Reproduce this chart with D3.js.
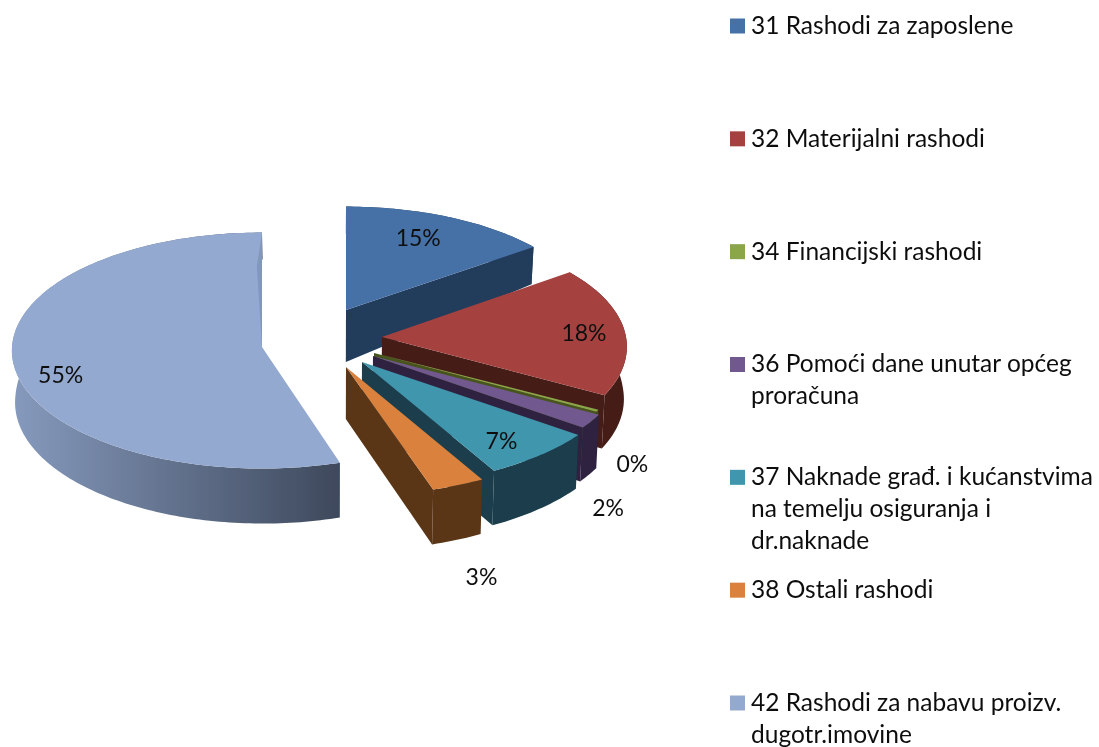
<!DOCTYPE html>
<html>
<head>
<meta charset="utf-8">
<script src="https://cdn.jsdelivr.net/npm/d3@7"></script>
<style>
    html, body { margin: 0; padding: 0; background: #fff; }
    text { font-family: Lato, "Noto Sans", sans-serif; fill: #111; }
</style>
</head>
<body>
<div class="container"></div>
<script>
// legend text, one entry per line
var categories = [
    ["31 Rashodi za zaposlene"],
    ["32 Materijalni rashodi"],
    ["34 Financijski rashodi"],
    ["36 Pomoći dane unutar općeg", "proračuna"],
    ["37 Naknade građ. i kućanstvima", "na temelju osiguranja i", "dr.naknade"],
    ["38 Ostali rashodi"],
    ["42 Rashodi za nabavu proizv.", "dugotr.imovine"]
];
// percent shares
var values = [15, 18, 0.3, 2, 6.8, 3, 54.9];

var topColors = ["#4571a7", "#a54340", "#8aa64a", "#71588f", "#3f96ad", "#d9813c", "#94a9cf"];
var sideColors = ["#243c5c", "#451c19", "#46541f", "#2e2340", "#1b3e4b", "#5a3517", "url(#bigSide)"];

// exploded slices: apex on the page and ellipse size of each one
var sliceGeom = [
    { cx: 346, cy: 310, rx: 244, ry: 113, k: 0.085 },
    { cx: 382, cy: 337, rx: 244, ry: 116, k: 0.085 },
    { cx: 374, cy: 353, rx: 246, ry: 113, k: 0.085 },
    { cx: 373, cy: 356, rx: 250, ry: 113, k: 0.085 },
    { cx: 362, cy: 362, rx: 258, ry: 115, k: 0.085 },
    { cx: 346, cy: 367, rx: 266, ry: 119, k: 0.085 },
    { cx: 262, cy: 347, rx: 250, ry: 118, k: 0.03 }
];
// label shift from the point at 0.8 radius on the mid angle
var labelNudge = [[-11, 4], [8, 2], [81, 65], [62, 100], [-2, 6], [47, 117], [-3, 13]];

var width = 1099, height = 747;

var svg = d3.select(".container").append("svg")
    .attr("width", width)
    .attr("height", height)
    .style("display", "block");

var grad = svg.append("defs").append("linearGradient")
    .attr("id", "bigSide")
    .attr("gradientUnits", "userSpaceOnUse")
    .attr("x1", 16).attr("x2", 339).attr("y1", 0).attr("y2", 0);
grad.append("stop").attr("offset", 0).attr("stop-color", "#8599bc");
grad.append("stop").attr("offset", 1).attr("stop-color", "#3e495c");

svg.select("defs").append("filter")
    .attr("id", "soft")
    .attr("filterUnits", "userSpaceOnUse")
    .attr("x", 0).attr("y", 0).attr("width", width).attr("height", height)
    .append("feGaussianBlur").attr("stdDeviation", 0.5);

var pie = d3.pie().sort(null).value(function (d) { return d; });
var arcs = pie(values);

// unit angle + radius -> point of the top face
function topPoint(g, a, r) {
    var s = 1 - g.k * Math.cos(a) * r;
    return [g.cx + g.rx * Math.sin(a) * r * s, g.cy - g.ry * Math.cos(a) * r * s];
}

// same point on the bottom face, depth shrinks toward the back
function bottomPoint(g, a, r) {
    var p = topPoint(g, a, r);
    var c = Math.cos(a) * r;
    var depth = c > 0 ? 52 - 25 * c : 52 - 3 * c;
    return [p[0] + (330 - p[0]) * 0.01, p[1] + depth];
}

var line = d3.line();

function arcAngles(d) {
    var n = Math.max(2, Math.ceil((d.endAngle - d.startAngle) / 0.02));
    return d3.range(n + 1).map(function (i) {
        return d.startAngle + (d.endAngle - d.startAngle) * i / n;
    });
}

var chart = svg.append("g").attr("filter", "url(#soft)");

arcs.forEach(function (d, i) {
    var g = sliceGeom[i];
    var angles = arcAngles(d);
    var topArc = angles.map(function (a) { return topPoint(g, a, 1); });
    var bottomArc = angles.map(function (a) { return bottomPoint(g, a, 1); }).reverse();
    var slice = chart.append("g").attr("class", "slice");

    // outer wall
    slice.append("path")
        .attr("d", line(topArc.concat(bottomArc)) + "Z")
        .attr("fill", sideColors[i]);

    // cut face on the end angle (the big slice hides it behind its top)
    if (i < 6) {
        slice.append("path")
            .attr("d", line([
                topPoint(g, d.endAngle, 0),
                topPoint(g, d.endAngle, 1),
                bottomPoint(g, d.endAngle, 1),
                bottomPoint(g, d.endAngle, 0)
            ]) + "Z")
            .attr("fill", sideColors[i]);
    }

    // top
    slice.append("path")
        .attr("d", line([topPoint(g, 0, 0)].concat(topArc)) + "Z")
        .attr("fill", topColors[i]);

    // thin lit edge on the back cut of the big slice
    if (i == 6) {
        slice.append("path")
            .attr("d", line([
                topPoint(g, d.endAngle, 1),
                topPoint(g, d.endAngle, 0),
                topPoint(g, d.endAngle - 0.03, 0.7)
            ]) + "Z")
            .attr("fill", "#8298ba");
    }
});

// percent labels
chart.selectAll("text.pct")
    .data(arcs)
    .enter()
    .append("text")
    .attr("class", "pct")
    .attr("text-anchor", "middle")
    .attr("dy", "0.35em")
    .attr("font-size", 23)
    .attr("x", function (d, i) {
        return topPoint(sliceGeom[i], (d.startAngle + d.endAngle) / 2, 0.8)[0] + labelNudge[i][0];
    })
    .attr("y", function (d, i) {
        return topPoint(sliceGeom[i], (d.startAngle + d.endAngle) / 2, 0.8)[1] + labelNudge[i][1];
    })
    .text(function (d) { return Math.round(d.value) + "%"; });

// legend
var legendY = d3.scalePoint()
    .domain(d3.range(categories.length))
    .range([26, 703]);

var legend = svg.append("g").attr("class", "legend").attr("filter", "url(#soft)");

var rows = legend.selectAll("g")
    .data(categories)
    .enter()
    .append("g")
    .attr("transform", function (d, i) { return "translate(730," + legendY(i) + ")"; });

rows.append("rect")
    .attr("y", -7.5)
    .attr("width", 15)
    .attr("height", 15)
    .attr("fill", function (d, i) { return topColors[i]; });

rows.selectAll("text")
    .data(function (d) { return d; })
    .enter()
    .append("text")
    .attr("x", 21)
    .attr("y", function (d, i) { return i * 32; })
    .attr("dy", "0.32em")
    .attr("font-size", 24.5)
    .text(function (d) { return d; });
</script>
</body>
</html>
